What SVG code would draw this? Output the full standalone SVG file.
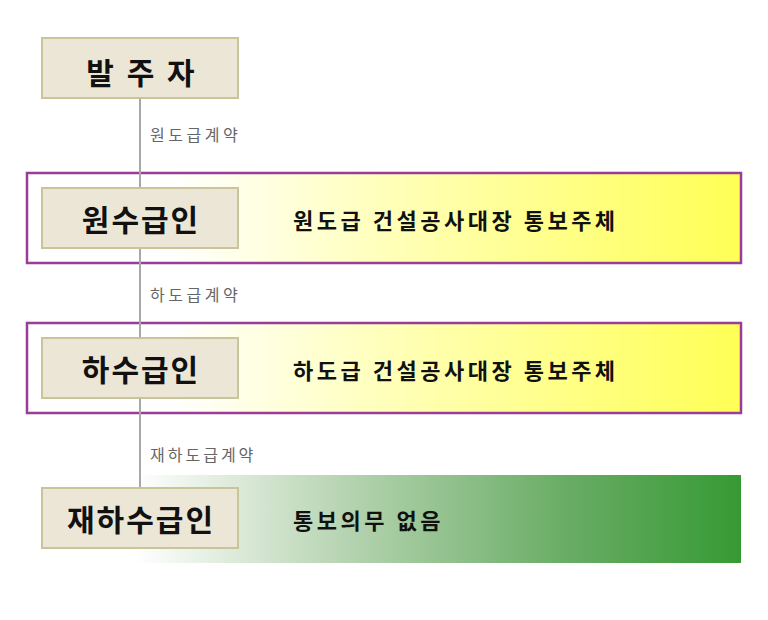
<svg xmlns="http://www.w3.org/2000/svg" width="768" height="620" viewBox="0 0 768 620">
<defs>
<linearGradient id="gy" x1="27" y1="0" x2="741" y2="0" gradientUnits="userSpaceOnUse">
<stop offset="0.2" stop-color="#ffffff"/>
<stop offset="0.55" stop-color="#ffffb0"/>
<stop offset="1" stop-color="#ffff55"/>
</linearGradient>
<linearGradient id="gg" x1="27" y1="0" x2="741" y2="0" gradientUnits="userSpaceOnUse">
<stop offset="0.15" stop-color="#ffffff"/>
<stop offset="0.45" stop-color="#b5d3b0"/>
<stop offset="0.75" stop-color="#6aad66"/>
<stop offset="1" stop-color="#369a33"/>
</linearGradient>
<style>
.node{fill:#ebe6d5;stroke:#c9c49a;stroke-width:2}
.nt{font-family:"Noto Sans CJK KR","Noto Sans",sans-serif;font-weight:bold;font-size:30px;fill:#111;text-anchor:middle;letter-spacing:2px}
.bt{font-family:"Noto Sans CJK KR","Noto Sans",sans-serif;font-weight:bold;font-size:22px;fill:#111;letter-spacing:3.5px}
.lt{font-family:"Noto Sans CJK KR","Noto Sans",sans-serif;font-size:16px;fill:#666;letter-spacing:3.5px}
.band{stroke:#993d99;stroke-width:2.5}
</style>
</defs>
<rect width="768" height="620" fill="#ffffff"/>
<g id="bands">
<rect class="band" x="27" y="173" width="714" height="90" fill="url(#gy)"/>
<rect class="band" x="27" y="323" width="714" height="90" fill="url(#gy)"/>
<rect x="27" y="475" width="714" height="88" fill="url(#gg)"/>
</g>
<g id="connectors">
<line x1="140" y1="98" x2="140" y2="488" stroke="#a8a8a8" stroke-width="2"/>
<text class="lt" x="150" y="141">원도급계약</text>
<text class="lt" x="150" y="301">하도급계약</text>
<text class="lt" x="150" y="461" style="letter-spacing:3px">재하도급계약</text>
</g>
<g id="n1">
<rect class="node" x="42" y="38" width="196" height="60"/>
<text class="nt" x="142" y="84" style="letter-spacing:3px">발 주 자</text>
</g>
<g id="n2">
<rect class="node" x="42" y="188" width="196" height="60"/>
<text class="nt" x="141" y="231">원수급인</text>
<text class="bt" x="293" y="229">원도급 건설공사대장 통보주체</text>
</g>
<g id="n3">
<rect class="node" x="42" y="338" width="196" height="60"/>
<text class="nt" x="141" y="381">하수급인</text>
<text class="bt" x="293" y="379">하도급 건설공사대장 통보주체</text>
</g>
<g id="n4">
<rect class="node" x="42" y="488" width="196" height="60"/>
<text class="nt" x="141" y="531">재하수급인</text>
<text class="bt" x="293" y="529" style="letter-spacing:3.5px">통보의무 없음</text>
</g>
</svg>
